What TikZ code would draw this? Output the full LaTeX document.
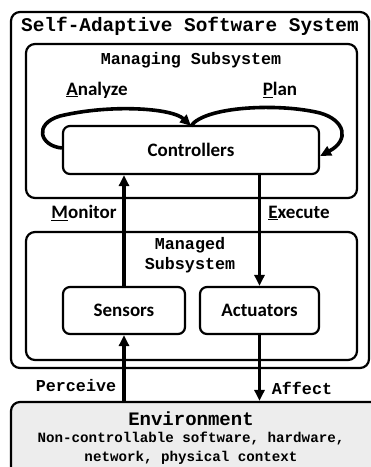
\documentclass[tikz,border=0pt]{standalone}
\usepackage{fontspec}
\setmainfont{Carlito}
\setmonofont{Liberation Mono}
\usetikzlibrary{arrows.meta}

\begin{document}
\begin{tikzpicture}[x=1pt, y=-1pt, >={Triangle[length=11pt,width=10pt]}, line join=round,
	box/.style={draw, line width=2.2pt, rounded corners=9pt, inner sep=0pt},
	arr/.style={->, line width=3.6pt},
	mono/.style={font=\fontsize{16.7}{20}\selectfont\ttfamily\bfseries},
	sans/.style={font=\fontsize{19}{22}\selectfont\bfseries}]
	\useasboundingbox (0,0) rectangle (371,467);
	\clip (0,0) rectangle (371,467);
	\node[box, minimum width=358pt, minimum height=356pt] (sas) at (190,190) {};
	\node[mono, font=\fontsize{19.4}{22}\selectfont\ttfamily\bfseries] (sastitle) at (190,26) {Self-Adaptive Software System};
	\node[box, minimum width=331pt, minimum height=154pt] (managing) at (191.5,121) {};
	\node[mono] (managingtitle) at (191,60) {Managing Subsystem};
	\node[box, minimum width=331pt, minimum height=128pt] (managed) at (191.5,296) {};
	\node[mono, align=center] (managedtitle) at (190,255) {Managed\\Subsystem};
	\node[box, rounded corners=7pt, minimum width=256pt, minimum height=48pt, sans] (ctrl) at (191,150) {Controllers};
	\node[box, rounded corners=7pt, minimum width=122pt, minimum height=47pt, sans] (sens) at (124,310.5) {Sensors};
	\node[box, rounded corners=7pt, minimum width=119pt, minimum height=47pt, sans] (act) at (259.5,310.5) {Actuators};
	\node[box, fill=gray!14, minimum width=369pt, minimum height=78pt] (env) at (195.5,441) {};
	\node[mono, font=\fontsize{19}{22}\selectfont\ttfamily\bfseries] (envtitle) at (191,419) {Environment};
	\node[align=center, font=\fontsize{14.2}{19}\selectfont\ttfamily\bfseries] (envtext) at (191,448.5) {Non-controllable software, hardware,\\network, physical context};
	\node[sans] (analyze) at (97,90) {\underline{A}nalyze};
	\node[sans] (plan) at (280,90) {\underline{P}lan};
	\node[sans] (monitor) at (84,213) {\underline{M}onitor};
	\node[sans] (execute) at (299,213) {\underline{E}xecute};
	\node[mono] (perceive) at (76,386) {Perceive};
	\node[mono] (affect) at (302,388) {Affect};
	\coordinate (top) at (ctrl.north);
	\draw[arr] ([yshift=2pt]ctrl.west) .. controls (40,146) and (33,124) .. (60,116) .. controls (110,104) and (172,108) .. ([yshift=-1pt]top);
	\draw[arr] ([yshift=-1pt]top) .. controls (205,106) and (280,103) .. (320,113) .. controls (345,120) and (350,140) .. ([yshift=-6pt]ctrl.east);
	\draw[arr] (sens.north) -- (sens.north |- ctrl.south);
	\draw[arr] (act.north |- ctrl.south) -- (act.north);
	\draw[arr] (env.north -| sens.south) -- (sens.south);
	\draw[arr] (act.south) -- (act.south |- env.north);
\end{tikzpicture}
\end{document}
